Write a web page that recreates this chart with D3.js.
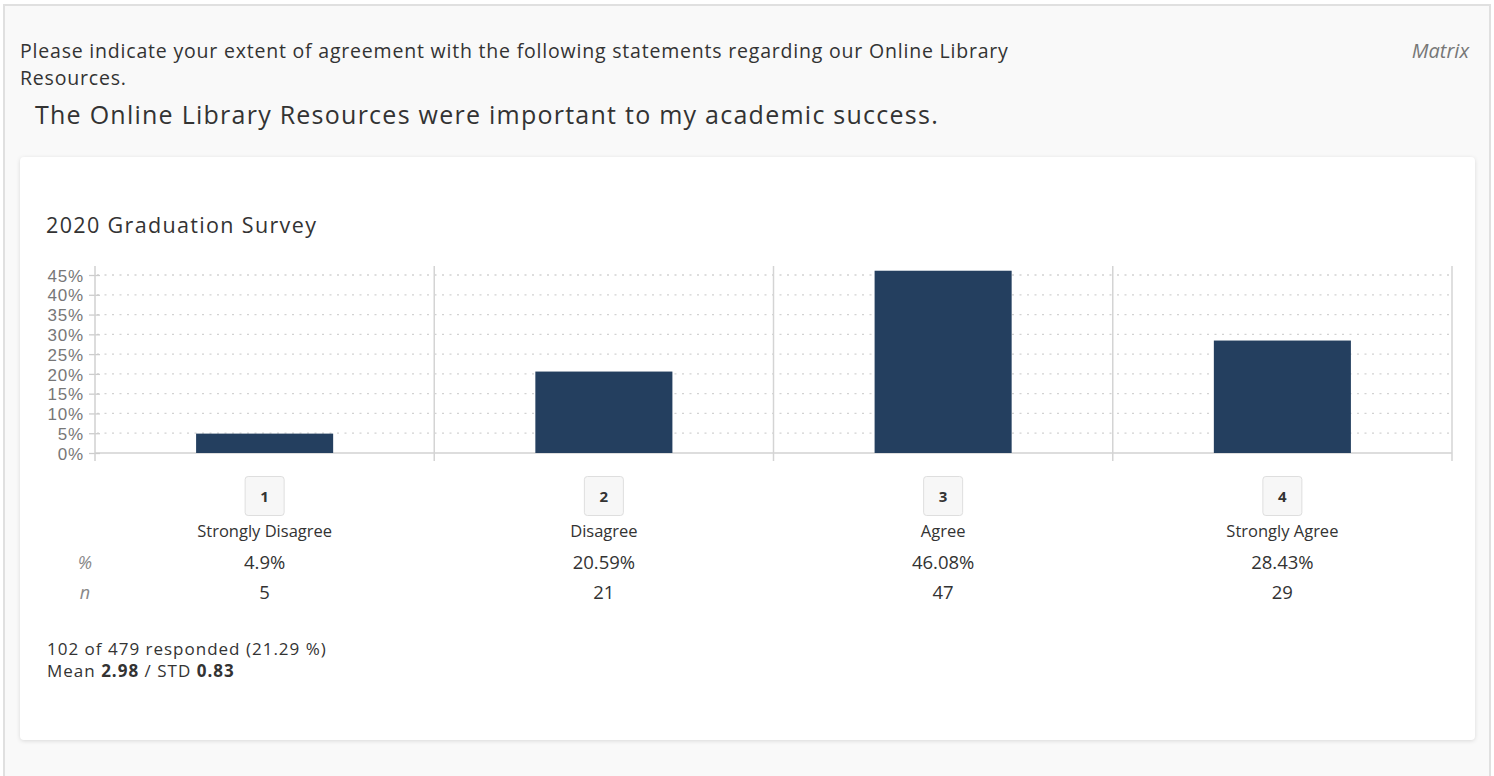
<!DOCTYPE html>
<html>
<head>
<meta charset="utf-8">
<script src="https://cdn.jsdelivr.net/npm/d3@7"></script>
<style>
  html, body { margin: 0; padding: 0; background: #ffffff; width: 1494px; height: 776px; overflow: hidden; }
  #frame { position: absolute; left: 3px; top: 4px; width: 1488px; height: 800px; background: #f9f9f9;
           border: 2px solid #e0e0e0; box-sizing: border-box; }
  #card { position: absolute; left: 20px; top: 157px; width: 1455px; height: 583px; background: #fff;
          border-radius: 4px; box-shadow: 0 1px 4px rgba(0,0,0,0.13); }
  svg { position: absolute; left: 0; top: 0; }
</style>
</head>
<body>
<div id="frame"></div>
<div id="card"></div>
<svg id="chart" width="1494" height="776"></svg>
<script>
// Response options and their shares / counts
const categories = ["Strongly Disagree", "Disagree", "Agree", "Strongly Agree"];
const codes = ["1", "2", "3", "4"];
const percents = [4.9, 20.59, 46.08, 28.43];
const counts = [5, 21, 47, 29];
const yTicks = [0, 5, 10, 15, 20, 25, 30, 35, 40, 45];

const svg = d3.select("#chart");
const uiFont = "'Open Sans', 'Noto Sans', sans-serif";

// Question header
svg.append("text").attr("x", 20).attr("y", 58)
  .attr("font-family", uiFont).attr("font-size", 19.5).attr("letter-spacing", 0.8).attr("fill", "#333")
  .text("Please indicate your extent of agreement with the following statements regarding our Online Library");
svg.append("text").attr("x", 20).attr("y", 85)
  .attr("font-family", uiFont).attr("font-size", 19.5).attr("letter-spacing", 0.8).attr("fill", "#333")
  .text("Resources.");
svg.append("text").attr("x", 1469).attr("y", 58).attr("text-anchor", "end")
  .attr("font-family", uiFont).attr("font-size", 20).attr("font-style", "italic").attr("fill", "#777")
  .text("Matrix");
svg.append("text").attr("x", 35).attr("y", 124)
  .attr("font-family", uiFont).attr("font-size", 25).attr("letter-spacing", 1.25).attr("fill", "#333")
  .text("The Online Library Resources were important to my academic success.");

svg.append("text").attr("x", 46).attr("y", 233)
  .attr("font-family", uiFont).attr("font-size", 21.5).attr("letter-spacing", 1.35).attr("fill", "#333")
  .text("2020 Graduation Survey");

// Scales
const x = d3.scaleBand().domain(categories).range([95, 1452]).padding(0);
const y = d3.scaleLinear().domain([0, 45]).range([453, 275]);
const bw = x.bandwidth();
const plotTop = 266, plotBottom = 461;

const g = svg.append("g");

// Dotted horizontal gridlines
g.selectAll("line.grid").data(yTicks.filter(t => t > 0)).join("line")
  .attr("x1", 97).attr("x2", 1452)
  .attr("y1", d => y(d)).attr("y2", d => y(d))
  .attr("stroke", "#d2d2d2").attr("stroke-width", 1.3).attr("stroke-dasharray", "2,5.5");

// Baseline
g.append("line").attr("x1", 95).attr("x2", 1452).attr("y1", y(0)).attr("y2", y(0))
  .attr("stroke", "#dddddd").attr("stroke-width", 2);

// Column separators at band edges
const edges = categories.map(c => x(c)).concat([x(categories[categories.length - 1]) + bw]);
g.selectAll("line.sep").data(edges.slice(1)).join("line")
  .attr("x1", d => d).attr("x2", d => d).attr("y1", plotTop).attr("y2", plotBottom)
  .attr("stroke", "#d4d4d4").attr("stroke-width", 1.5);

// Y axis
const yAxis = d3.axisLeft(y).tickValues(yTicks).tickSize(6).tickPadding(6).tickFormat(d => d + "%");
const ay = g.append("g").attr("transform", "translate(95,0)").call(yAxis);
ay.select(".domain").remove();
ay.selectAll(".tick line").attr("x2", -6).attr("x1", 5).attr("stroke", "#cccccc").attr("stroke-width", 1.3);
ay.selectAll(".tick text").attr("font-family", "'Liberation Sans', Arial, sans-serif")
  .attr("x", -11)
  .attr("font-size", 17).attr("fill", "#777").attr("letter-spacing", 0.8).attr("dy", "0.36em");
g.append("line").attr("x1", 95).attr("x2", 95).attr("y1", plotTop).attr("y2", plotBottom)
  .attr("stroke", "#d0d0d0").attr("stroke-width", 1.5);

// Bars
g.selectAll("rect.bar").data(categories).join("rect")
  .attr("x", (c) => x(c) + bw * 0.298)
  .attr("width", bw * 0.404)
  .attr("y", (c, i) => y(percents[i]))
  .attr("height", (c, i) => y(0) - y(percents[i]))
  .attr("fill", "#243f5f");

// Category code boxes and labels
const cols = g.selectAll("g.col").data(categories).join("g")
  .attr("transform", c => `translate(${x(c) + bw / 2},0)`);
cols.append("rect").attr("x", -19.5).attr("y", 476.5).attr("width", 39).attr("height", 39).attr("rx", 3)
  .attr("fill", "#f7f7f7").attr("stroke", "#dedede");
cols.append("text").attr("y", 502).attr("text-anchor", "middle")
  .attr("font-family", uiFont).attr("font-size", 15).attr("font-weight", 700).attr("fill", "#333")
  .text((c, i) => codes[i]);
cols.append("text").attr("y", 537).attr("text-anchor", "middle")
  .attr("font-family", uiFont).attr("font-size", 16.5).attr("fill", "#333")
  .text(c => c);
cols.append("text").attr("y", 569).attr("text-anchor", "middle")
  .attr("font-family", uiFont).attr("font-size", 18.5).attr("fill", "#333")
  .text((c, i) => percents[i] + "%");
cols.append("text").attr("y", 599).attr("text-anchor", "middle")
  .attr("font-family", uiFont).attr("font-size", 18.5).attr("fill", "#333")
  .text((c, i) => counts[i]);

// Row markers
svg.append("text").attr("x", 85).attr("y", 569).attr("text-anchor", "middle")
  .attr("font-family", uiFont).attr("font-size", 18).attr("font-style", "italic").attr("fill", "#888").text("%");
svg.append("text").attr("x", 85).attr("y", 599).attr("text-anchor", "middle")
  .attr("font-family", uiFont).attr("font-size", 18).attr("font-style", "italic").attr("fill", "#888").text("n");

// Summary statistics
svg.append("text").attr("x", 47).attr("y", 655)
  .attr("font-family", uiFont).attr("font-size", 17).attr("letter-spacing", 1.0).attr("fill", "#333")
  .text("102 of 479 responded (21.29 %)");
const stat = svg.append("text").attr("x", 47).attr("y", 677)
  .attr("font-family", uiFont).attr("font-size", 17).attr("letter-spacing", 1.0).attr("fill", "#333");
stat.append("tspan").text("Mean ");
stat.append("tspan").attr("font-weight", 700).text("2.98");
stat.append("tspan").text(" / STD ");
stat.append("tspan").attr("font-weight", 700).text("0.83");
</script>
</body>
</html>
